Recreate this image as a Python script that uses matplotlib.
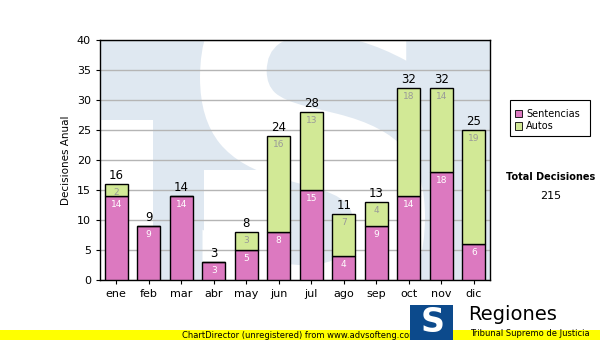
import matplotlib.pyplot as plt
from matplotlib.patches import Rectangle, PathPatch
from matplotlib.textpath import TextPath
from matplotlib.font_manager import FontProperties
from matplotlib.transforms import Affine2D
import numpy as np

meses = ["ene", "feb", "mar", "abr", "may", "jun", "jul", "ago", "sep", "oct", "nov", "dic"]
sentencias = [14, 9, 14, 3, 5, 8, 15, 4, 9, 14, 18, 6]
autos = [2, 0, 0, 0, 3, 16, 13, 7, 4, 18, 14, 19]

pink = "#dc79c0"
green = "#d2e996"
wm_blue = "#dfe8f1"

fig = plt.figure(figsize=(6, 3.4), dpi=100)
rect = [100 / 600, 1 - 280 / 340, 390 / 600, 240 / 340]

# watermark logo drawn in a pixel-sized helper axes behind the chart
bg = fig.add_axes(rect, zorder=0)
bg.set_xlim(0, 390)
bg.set_ylim(0, 240)
bg.axis("off")
bg.add_patch(Rectangle((0, 0), 390, 240, facecolor=wm_blue, edgecolor="none"))
bg.add_patch(Rectangle((0, 0), 53, 160, facecolor="white", edgecolor="none"))
tp = TextPath((0, 0), "S", size=1, prop=FontProperties(family="DejaVu Sans", weight="bold"))
ext = tp.get_extents()
tr = (Affine2D().translate(-ext.x0, -ext.y0)
      .scale(225 / ext.width, 360 / ext.height)
      .translate(100, -50))
bg.add_patch(PathPatch(tr.transform_path(tp), facecolor="white", edgecolor="none"))
bg.add_patch(Rectangle((104, 0), 76, 110, facecolor="white", edgecolor="none"))

ax = fig.add_axes(rect, zorder=1)
ax.set_facecolor("none")

x = np.arange(len(meses))
w = 0.72
ax.bar(x, sentencias, w, color=pink, edgecolor="black", linewidth=1, zorder=3)
ax.bar(x, autos, w, bottom=sentencias, color=green, edgecolor="black", linewidth=1, zorder=3)

totales = [s + a for s, a in zip(sentencias, autos)]
for i in range(len(meses)):
    ax.text(x[i], totales[i] + 0.3, str(totales[i]), ha="center", va="bottom", fontsize=8.5, zorder=5)
    ax.text(x[i], sentencias[i] - 0.6, str(sentencias[i]), ha="center", va="top",
            fontsize=6.5, color="white", zorder=5)
    if autos[i] > 0:
        ax.text(x[i], totales[i] - 0.6, str(autos[i]), ha="center", va="top",
                fontsize=6.5, color="#999999", zorder=5)

ax.set_xlim(-0.5, len(meses) - 0.5)
ax.set_ylim(0, 40)
ax.set_yticks(range(0, 41, 5))
ax.set_xticks(x)
ax.set_xticklabels(meses)
ax.tick_params(labelsize=8, length=3)
ax.yaxis.grid(True, color="#b5b5b5", linewidth=1, zorder=1)
ax.set_axisbelow(True)
ax.set_ylabel("Decisiones Anual", fontsize=7.5, labelpad=4)
for s in ax.spines.values():
    s.set_linewidth(1)

# legend
lx, ly = 510 / 600, 1 - 136 / 340
fig.patches.append(Rectangle((lx, ly), 80 / 600, 36 / 340, transform=fig.transFigure,
                             facecolor="white", edgecolor="black", linewidth=0.8))
for j, (lab, col) in enumerate([("Sentencias", pink), ("Autos", green)]):
    yy = 1 - (114 + j * 12) / 340
    fig.patches.append(Rectangle((515 / 600, yy - 3.5 / 340), 7 / 600, 7 / 340,
                                 transform=fig.transFigure, facecolor=col,
                                 edgecolor="black", linewidth=0.6))
    fig.text(526 / 600, yy, lab, fontsize=7, va="center")

fig.text(551 / 600, 1 - 177 / 340, "Total Decisiones", fontsize=7, fontweight="bold",
         ha="center", va="center")
fig.text(551 / 600, 1 - 196 / 340, "215", fontsize=8, ha="center", va="center")

# footer
fig.patches.append(Rectangle((0, 0), 1, 10 / 340, transform=fig.transFigure,
                             facecolor="#ffff00", edgecolor="none", zorder=5))
fig.text(300 / 600, 5 / 340, "ChartDirector (unregistered) from www.advsofteng.com",
         fontsize=6, ha="center", va="center", zorder=6)

# logo
fig.patches.append(Rectangle((410 / 600, 0), 43 / 600, 35 / 340, transform=fig.transFigure,
                             facecolor="#0c4a8c", edgecolor="none", zorder=7))
fig.text(433 / 600, 17 / 340, "S", fontsize=24, fontweight="bold", color="white",
         ha="center", va="center", zorder=8)
fig.text(468 / 600, 1 - 315 / 340, "Regiones", fontsize=14, ha="left", va="center", zorder=8)
fig.text(470 / 600, 1 - 333 / 340, "Tribunal Supremo de Justicia", fontsize=6,
         ha="left", va="center", zorder=8)

fig.savefig("out.png", dpi=100)
